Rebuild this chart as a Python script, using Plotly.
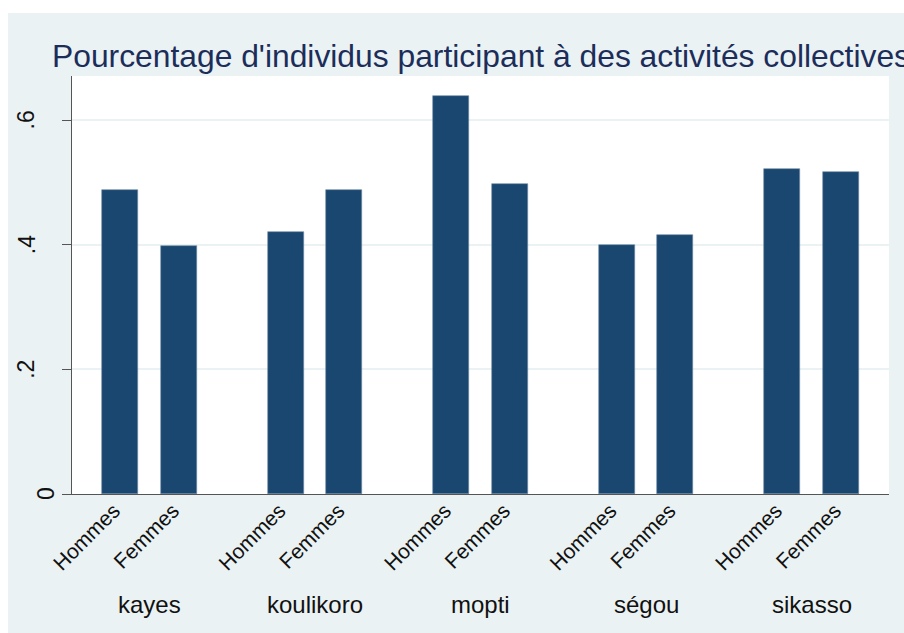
import plotly.graph_objects as go

regions = ["kayes", "koulikoro", "mopti", "ségou", "sikasso"]
sexes = ["Hommes", "Femmes"]
hommes = [0.487, 0.420, 0.638, 0.400, 0.522]
femmes = [0.398, 0.487, 0.497, 0.416, 0.516]
y_ticks = [0, 0.2, 0.4, 0.6]
y_ticktext = ["0", ".2", ".4", ".6"]
title = "Pourcentage d'individus participant à des activités collectives"

W, H = 904, 633
L, R, T, B = 72, 15, 76, 139
pw, ph = W - L - R, H - T - B

def px_x(p):
    return (p - L) / pw

def px_y(p):
    return (H - B - p) / ph

bar_col = "#1a476f"
bg = "#eaf2f3"
font = "Liberation Sans, Arial, sans-serif"

off = 0.178
idx = list(range(len(regions)))
x_h = [i - off for i in idx]
x_f = [i + off for i in idx]

fig = go.Figure()
fig.add_trace(go.Bar(x=x_h, y=hommes, width=0.2175, marker=dict(color=bar_col, line=dict(width=0.6, color="#6d8aa5")), name="Hommes"))
fig.add_trace(go.Bar(x=x_f, y=femmes, width=0.2175, marker=dict(color=bar_col, line=dict(width=0.6, color="#6d8aa5")), name="Femmes"))

tickvals = []
ticktext = []
for a, b in zip(x_h, x_f):
    tickvals += [a, b]
    ticktext += sexes

annotations = []
# noms des régions sous les groupes
for i, r in zip(idx, regions):
    annotations.append(dict(x=i, y=px_y(604), xref="x", yref="paper", text=r, showarrow=False,
                            font=dict(size=24, color="#111111", family=font), xanchor="center", yanchor="middle"))
# étiquettes de l'axe y (verticales)
for v, t in zip(y_ticks, y_ticktext):
    cx = 26.5 if t.startswith(".") else 46
    annotations.append(dict(x=px_x(cx), y=v, xref="paper", yref="y", text=t, showarrow=False, textangle=-90,
                            font=dict(size=23, color="#111111", family=font), xanchor="center", yanchor="middle"))
# titre
annotations.append(dict(x=px_x(50), y=px_y(56), xref="paper", yref="paper", text=title, showarrow=False,
                        font=dict(size=31.8, color="#1c2d5a", family=font), xanchor="left", yanchor="middle"))

fig.update_layout(
    width=W, height=H,
    margin=dict(l=L, r=R, t=T, b=B, pad=0),
    paper_bgcolor="white",
    plot_bgcolor="white",
    showlegend=False,
    bargap=0,
    annotations=annotations,
    shapes=[
        dict(type="rect", xref="paper", yref="paper", x0=px_x(8), x1=px_x(W + 5), y0=px_y(H + 5), y1=px_y(13),
             fillcolor=bg, line=dict(width=0), layer="below"),
        dict(type="rect", xref="paper", yref="paper", x0=0, x1=1, y0=0, y1=1,
             fillcolor="white", line=dict(width=0), layer="below"),
    ],
)
fig.update_xaxes(range=[-0.468, len(regions) - 1 + 0.468], tickvals=tickvals, ticktext=ticktext, tickangle=-45,
                 tickfont=dict(size=21, color="#111111", family=font), ticks="", showgrid=False, zeroline=False,
                 ticklabelshift=-6, ticklabelstandoff=-5,
                 showline=True, linecolor="#555555", linewidth=1.2)
fig.update_yaxes(range=[0, 0.6706], tickvals=y_ticks, showticklabels=False, ticks="outside", ticklen=9,
                 tickcolor="#555555", tickwidth=1.2, showgrid=True, gridcolor=bg, gridwidth=1.5, zeroline=False,
                 showline=True, linecolor="#555555", linewidth=1.2)

# la page html a une marge de 8px par défaut : on l'enlève
fig.write_html("out.html", config={"displayModeBar": False},
               post_script="document.body.style.margin='0px';")
